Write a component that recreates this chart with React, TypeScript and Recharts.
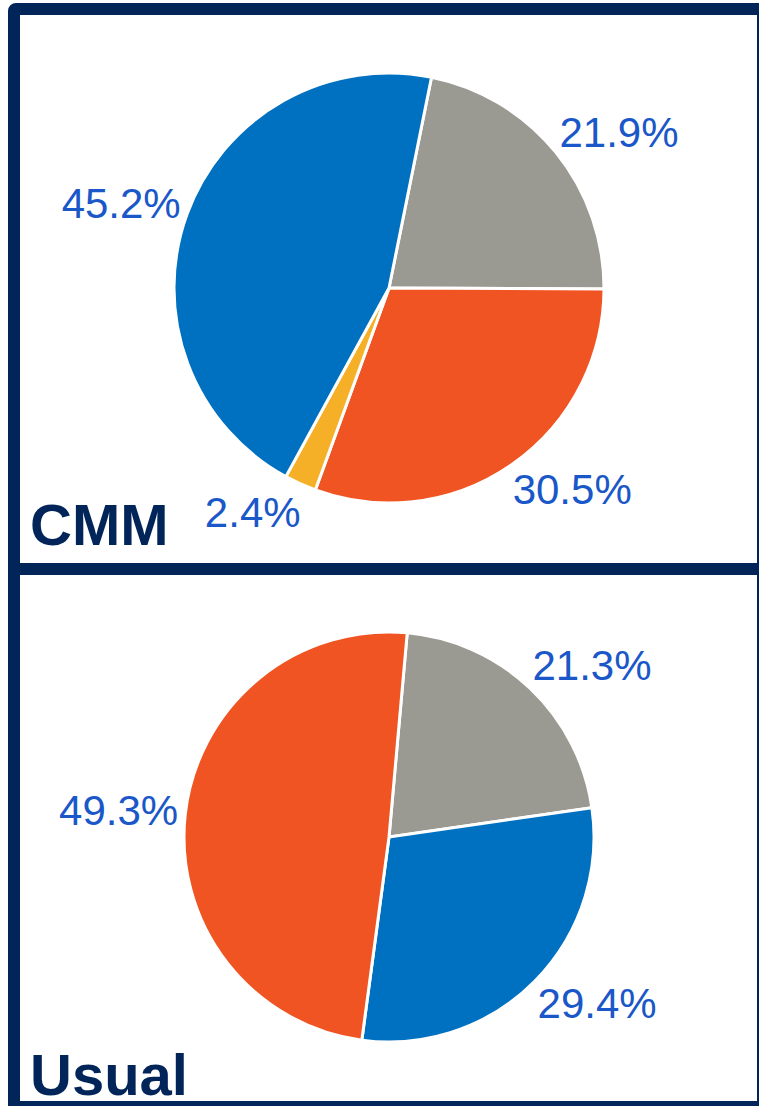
import { PieChart, Pie, Cell } from "recharts"

const cmmNames = ["Gray", "Orange", "Yellow", "Blue"]
const cmmValues = [21.9, 30.5, 2.4, 45.2]
const cmmColors = ["#9b9a92", "#f05423", "#f6b027", "#0070c0"]

const usualNames = ["Gray", "Blue", "Orange"]
const usualValues = [21.3, 29.4, 49.3]
const usualColors = ["#9b9a92", "#0070c0", "#f05423"]

const NAVY = "#012459"
const LABEL_BLUE = "#1a57c8"
const LABEL_FONT = "'Liberation Sans Narrow', 'Liberation Sans', sans-serif"

const RAD = Math.PI / 180

// outside-end label, pushed sideways by roughly half its width like Excel does
function makeLabel(fontSize: number) {
  return (props: any) => {
    const { cx, cy, midAngle, outerRadius, value } = props
    const text = `${value.toFixed(1)}%`
    const half = (text.length * fontSize * 0.56) / 2
    const sin = Math.cos(midAngle * RAD)
    const cos = Math.sin(midAngle * RAD)
    const d = outerRadius + 15
    const x = cx + d * sin + Math.sign(sin) * half * 0.88
    const y = cy - d * cos - 16 * cos
    return (
      <text
        x={x}
        y={y}
        fill={LABEL_BLUE}
        fontFamily={LABEL_FONT}
        fontSize={fontSize}
        textAnchor="middle"
        dominantBaseline="central"
      >
        {text}
      </text>
    )
  }
}

function Panel({ top, height, title, names, values, colors, cy, r, startAngle, titleBottom }: any) {
  const data = names.map((n: string, i: number) => ({ name: n, value: values[i] }))
  return (
    <div style={{ position: "absolute", left: 0, top, width: 759, height }}>
      <PieChart width={759} height={height} margin={{ top: 0, right: 0, bottom: 0, left: 0 }}>
        <Pie
          data={data}
          dataKey="value"
          cx={389}
          cy={cy}
          outerRadius={r}
          startAngle={startAngle}
          endAngle={startAngle - 360}
          stroke="#ffffff"
          strokeWidth={3}
          label={makeLabel(42)}
          labelLine={false}
          isAnimationActive={false}
        >
          {data.map((d: any, i: number) => (
            <Cell key={d.name} fill={colors[i]} />
          ))}
        </Pie>
      </PieChart>
      <div
        style={{
          position: "absolute",
          left: 30,
          bottom: titleBottom,
          color: NAVY,
          fontFamily: "'Liberation Sans', sans-serif",
          fontWeight: 700,
          fontSize: 58,
          lineHeight: 1,
        }}
      >
        {title}
      </div>
    </div>
  )
}

export default function App() {
  return (
    <div style={{ position: "absolute", left: 0, top: 0, width: 759, height: 1106, overflow: "hidden", background: "#fff" }}>
      <div style={{ position: "absolute", left: 8, top: 3, width: 761, height: 572, border: `12px solid ${NAVY}`, borderTopLeftRadius: 8, boxSizing: "border-box" }} />
      <div style={{ position: "absolute", left: 8, top: 563, width: 761, height: 550, border: `12px solid ${NAVY}`, boxSizing: "border-box" }} />
      <Panel top={0} height={575} title="CMM" names={cmmNames} values={cmmValues} colors={cmmColors} cy={288} r={215} startAngle={78.6} titleBottom={21} />
      <Panel top={563} height={543} title="Usual" names={usualNames} values={usualValues} colors={usualColors} cy={274} r={205} startAngle={84.9} titleBottom={2} />
    </div>
  )
}
